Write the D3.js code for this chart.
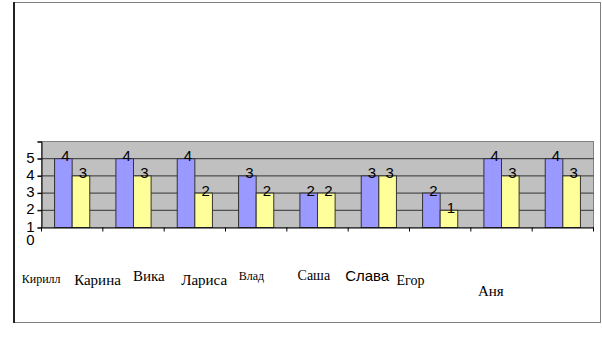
<!DOCTYPE html>
<html><head><meta charset="utf-8">
<script src="https://cdn.jsdelivr.net/npm/d3@7"></script>
<style>body{margin:0;background:#fff}svg{display:block}</style>
</head><body>
<script>
const categories = ["Кирилл","Карина","Вика","Лариса","Влад","Саша","Слава","Егор","Аня"];
const series1 = [4,4,4,3,2,3,2,4,4];
const series2 = [3,3,2,2,2,3,1,3,3];
const yTickLabels = ["0","1","2","3","4","5"];

// hand-placed category label styling (offsets from band centre)
const labelLayout = [
  {dx:-31, dy:55, size:12, font:"Liberation Serif"},
  {dx:-36, dy:57, size:15, font:"Liberation Serif"},
  {dx:-46, dy:53, size:15, font:"Liberation Serif"},
  {dx:-52, dy:57, size:15, font:"Liberation Serif"},
  {dx:-66, dy:52, size:12, font:"Liberation Serif"},
  {dx:-65, dy:52, size:14, font:"Liberation Serif"},
  {dx:-73, dy:53, size:15, font:"Liberation Sans"},
  {dx:-91, dy:57, size:14, font:"Liberation Serif"},
  {dx:-72, dy:68, size:15, font:"Liberation Serif"}
];

const W=602,H=340;
const svg=d3.select("body").append("svg").attr("width",W).attr("height",H);

// outer frame
svg.append("rect").attr("x",13.5).attr("y",2.5).attr("width",587).attr("height",320)
  .attr("fill","#fff").attr("stroke","#000").attr("stroke-width",1).attr("stroke-dasharray","1,1");
svg.append("line").attr("x1",14).attr("x2",14).attr("y1",2).attr("y2",323).attr("stroke","#222").attr("stroke-width",2);

const plot={l:41.5,r:593.5,t:141.5,b:227.5};
const x=d3.scaleBand().domain(categories).range([plot.l,plot.r]).paddingInner(0).paddingOuter(0);
const y=d3.scaleLinear().domain([0,5]).range([plot.b,plot.t]);
const inner=d3.scaleBand().domain([0,1]).range([0,x.bandwidth()]).paddingInner(0).paddingOuter(0.366*1.37);

// plot background
svg.append("rect").attr("x",plot.l).attr("y",plot.t).attr("width",plot.r-plot.l).attr("height",plot.b-plot.t)
  .attr("fill","#C0C0C0").attr("stroke","#808080").attr("stroke-width",1);

// gridlines
svg.append("g").selectAll("line").data([1,2,3,4]).join("line")
  .attr("x1",plot.l-4).attr("x2",plot.r).attr("y1",d=>y(d)).attr("y2",d=>y(d))
  .attr("stroke","#333").attr("stroke-width",1);

// bars
const sets=[{vals:series1,fill:"#9999FF"},{vals:series2,fill:"#FFFF99"}];
const bw=17.6;
sets.forEach((s,si)=>{
  svg.append("g").selectAll("rect").data(categories).join("rect")
    .attr("x",(c)=>x(c)+x.bandwidth()/2-bw+si*bw)
    .attr("y",(c,i)=>y(s.vals[i]))
    .attr("width",bw)
    .attr("height",(c,i)=>y(0)-y(s.vals[i]))
    .attr("fill",s.fill).attr("stroke","#333").attr("stroke-width",1);
  svg.append("g").selectAll("text").data(categories).join("text")
    .attr("x",(c)=>x(c)+x.bandwidth()/2-bw/2+si*bw+2)
    .attr("y",(c,i)=>y(s.vals[i])+2.5)
    .attr("text-anchor","middle")
    .attr("font-family","Liberation Sans, Arial").attr("font-size",15)
    .text((c,i)=>s.vals[i]);
});

// axes
const yAxis=d3.axisLeft(y).tickValues([0,1,2,3,4,5]).tickSize(4).tickFormat("");
svg.append("g").attr("transform",`translate(${plot.l},0)`).call(yAxis)
  .call(g=>g.select(".domain").attr("stroke","#000"))
  .call(g=>g.selectAll(".tick line").attr("stroke","#000"));
const xAxis=d3.axisBottom(x).tickSize(0).tickFormat("");
const xg=svg.append("g").attr("transform",`translate(0,${plot.b})`).call(xAxis);
xg.select(".domain").attr("stroke","#000");
xg.selectAll(".bound").data(categories.concat(["end"])).join("line")
  .attr("x1",(c,i)=>plot.l+i*x.bandwidth()).attr("x2",(c,i)=>plot.l+i*x.bandwidth())
  .attr("y1",0).attr("y2",4).attr("stroke","#000");

// y tick labels (shifted as in original)
svg.append("g").selectAll("text").data(yTickLabels).join("text")
  .attr("x",34.5)
  .attr("y",(d,i)=> i===0 ? y(-0.75)+5 : y(i-1)+4)
  .attr("text-anchor","end")
  .attr("font-family","Liberation Sans, Arial").attr("font-size",15)
  .text(d=>d);

// category labels
svg.append("g").selectAll("text").data(categories).join("text")
  .attr("x",(c,i)=>x(c)+x.bandwidth()/2+labelLayout[i].dx)
  .attr("y",(c,i)=>plot.b+labelLayout[i].dy)
  .attr("text-anchor","middle")
  .attr("font-family",(c,i)=>labelLayout[i].font)
  .attr("font-size",(c,i)=>labelLayout[i].size)
  .text(c=>c);
</script>
</body></html>
